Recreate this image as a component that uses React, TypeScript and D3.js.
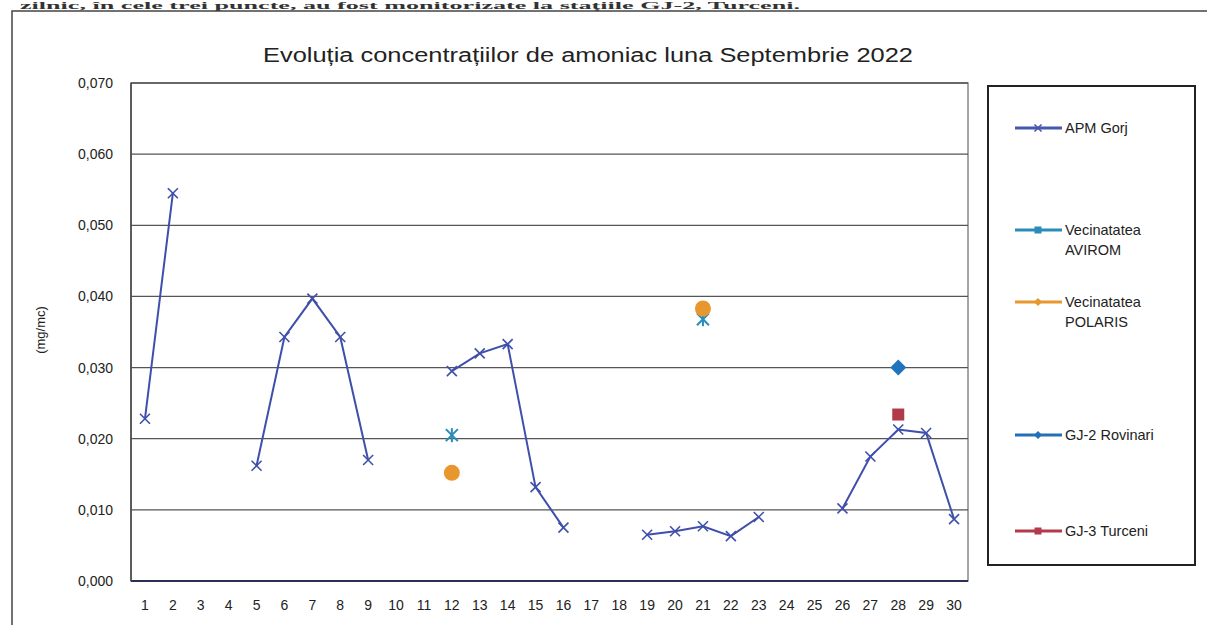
import React from 'react';
import * as d3 from 'd3';

// days of the month on the x axis
const days = d3.range(1, 31).map(String);

// APM Gorj daily values (mg/mc), null = no measurement
const apmGorj = [
  0.0228, 0.0545, null, null, 0.0162, 0.0343, 0.0397, 0.0343, 0.017, null,
  null, 0.0295, 0.032, 0.0333, 0.0132, 0.0075, null, null, 0.0065, 0.007,
  0.0077, 0.0063, 0.009, null, null, 0.0102, 0.0175, 0.0213, 0.0208, 0.0087,
];

// the other stations only have a few measurements
const avirom = [
  { day: '12', value: 0.0205 },
  { day: '21', value: 0.0368 },
];
const polaris = [
  { day: '12', value: 0.0152 },
  { day: '21', value: 0.0383 },
];
const rovinari = [{ day: '28', value: 0.03 }];
const turceni = [{ day: '28', value: 0.0234 }];

const yTicks = [0, 0.01, 0.02, 0.03, 0.04, 0.05, 0.06, 0.07];

const legendItems = [
  { name: ['APM Gorj'], color: '#4657ad', marker: 'x' },
  { name: ['Vecinatatea', 'AVIROM'], color: '#2a8cb8', marker: 'square' },
  { name: ['Vecinatatea', 'POLARIS'], color: '#e8972f', marker: 'diamond' },
  { name: ['GJ-2 Rovinari'], color: '#2270b8', marker: 'diamond' },
  { name: ['GJ-3 Turceni'], color: '#b33a4c', marker: 'square' },
];

const W = 1207;
const H = 625;
const margin = { left: 131, right: 968, top: 83, bottom: 581 };
const font = '"Liberation Sans", Arial, sans-serif';

const xMark = (cx: number, cy: number, s: number, color: string, key: string) => (
  <g key={key} stroke={color} strokeWidth={1.6}>
    <line x1={cx - s} y1={cy - s} x2={cx + s} y2={cy + s} />
    <line x1={cx - s} y1={cy + s} x2={cx + s} y2={cy - s} />
  </g>
);

const App = () => {
  const x = d3
    .scaleBand()
    .domain(days)
    .range([margin.left, margin.right]);
  const cx = (d: string) => (x(d) as number) + x.bandwidth() / 2;

  const y = d3.scaleLinear().domain([0, 0.07]).range([margin.bottom, margin.top]);
  const fmt = (v: number) => d3.format('.3f')(v).replace('.', ',');

  const line = d3
    .line<number | null>()
    .defined((d) => d != null)
    .x((_, i) => cx(days[i]))
    .y((d) => y(d as number));

  const legendY = [128, 230, 302, 435, 531];

  return (
    <div style={{ position: 'absolute', left: 0, top: 0 }}>
      <svg width={W} height={H} style={{ display: 'block', background: '#fff' }}>
        {/* line of the document just above the chart */}
        <text
          x={20}
          y={9}
          textLength={780}
          lengthAdjust="spacingAndGlyphs"
          fontFamily='"Liberation Serif", "Times New Roman", serif'
          fontWeight="bold"
          fontSize={11}
          fill="#333"
        >
          zilnic, în cele trei puncte, au fost monitorizate la staţiile GJ-2, Turceni.
        </text>

        {/* outer frame */}
        <rect x={12} y={11} width={1210} height={630} fill="none" stroke="#444" strokeWidth={1.5} />

        {/* title */}
        <text
          x={263}
          y={62}
          textLength={650}
          lengthAdjust="spacingAndGlyphs"
          fontFamily={font}
          fontSize={20}
          fill="#222"
        >
          Evoluția concentrațiilor de amoniac luna Septembrie 2022
        </text>

        {/* plot border */}
        <rect
          x={margin.left}
          y={margin.top}
          width={margin.right - margin.left}
          height={margin.bottom - margin.top}
          fill="none"
          stroke="#888"
          strokeWidth={1.5}
        />

        {/* grid + y labels */}
        {yTicks.map((t) => (
          <g key={t}>
            <line
              x1={margin.left}
              x2={margin.right}
              y1={y(t)}
              y2={y(t)}
              stroke={t === 0 ? '#2a2f55' : '#555'}
              strokeWidth={t === 0 ? 2 : 1.3}
            />
            <text
              x={113}
              y={y(t) + 5}
              textAnchor="end"
              fontFamily={font}
              fontSize={14}
              fill="#222"
            >
              {fmt(t)}
            </text>
          </g>
        ))}
        <line x1={margin.left} x2={margin.left} y1={margin.top} y2={margin.bottom} stroke="#444" strokeWidth={1.5} />

        {/* x labels */}
        {days.map((d) => (
          <text key={d} x={cx(d)} y={610} textAnchor="middle" fontFamily={font} fontSize={14} fill="#222">
            {d}
          </text>
        ))}

        {/* y axis title */}
        <text
          transform={`translate(45,${330}) rotate(-90)`}
          textAnchor="middle"
          fontFamily={font}
          fontSize={13}
          fill="#222"
        >
          (mg/mc)
        </text>

        {/* APM Gorj */}
        <path d={line(apmGorj) || ''} fill="none" stroke="#3f4fab" strokeWidth={2} />
        {apmGorj.map((v, i) =>
          v == null ? null : xMark(cx(days[i]), y(v), 5, '#3f4fab', 'g' + i)
        )}

        {/* Vecinatatea AVIROM - asterisk */}
        {avirom.map((d) => (
          <g key={'a' + d.day} stroke="#2a8cb8" strokeWidth={2}>
            <line x1={cx(d.day) - 6} y1={y(d.value) - 6} x2={cx(d.day) + 6} y2={y(d.value) + 6} />
            <line x1={cx(d.day) - 6} y1={y(d.value) + 6} x2={cx(d.day) + 6} y2={y(d.value) - 6} />
            <line x1={cx(d.day)} y1={y(d.value) - 7} x2={cx(d.day)} y2={y(d.value) + 7} />
          </g>
        ))}

        {/* Vecinatatea POLARIS - circles */}
        {polaris.map((d) => (
          <circle key={'p' + d.day} cx={cx(d.day)} cy={y(d.value)} r={8} fill="#e8962e" />
        ))}

        {/* GJ-2 Rovinari - diamond */}
        {rovinari.map((d) => (
          <path
            key={'r' + d.day}
            d={`M${cx(d.day)},${y(d.value) - 8}l8,8l-8,8l-8,-8z`}
            fill="#1f74bd"
          />
        ))}

        {/* GJ-3 Turceni - square */}
        {turceni.map((d) => (
          <rect key={'t' + d.day} x={cx(d.day) - 6} y={y(d.value) - 6} width={12} height={12} fill="#b13a4a" />
        ))}

        {/* legend */}
        <rect x={988} y={86} width={207} height={479} fill="#fff" stroke="#222" strokeWidth={2} />
        {legendItems.map((it, i) => {
          const ly = legendY[i];
          const mx = 1038;
          return (
            <g key={it.name.join(' ')}>
              <line x1={1015} x2={1062} y1={ly} y2={ly} stroke={it.color} strokeWidth={3} />
              {it.marker === 'x' && xMark(mx, ly, 3.5, it.color, 'lx')}
              {it.marker === 'square' && (
                <rect x={mx - 3.5} y={ly - 3.5} width={7} height={7} fill={it.color} />
              )}
              {it.marker === 'diamond' && (
                <path d={`M${mx},${ly - 4}l4,4l-4,4l-4,-4z`} fill={it.color} />
              )}
              {it.name.map((n, j) => (
                <text
                  key={n}
                  x={1065}
                  y={ly + 5 + j * 20}
                  fontFamily={font}
                  fontSize={14.5}
                  fill="#222"
                >
                  {n}
                </text>
              ))}
            </g>
          );
        })}
      </svg>
    </div>
  );
};

export default App;
